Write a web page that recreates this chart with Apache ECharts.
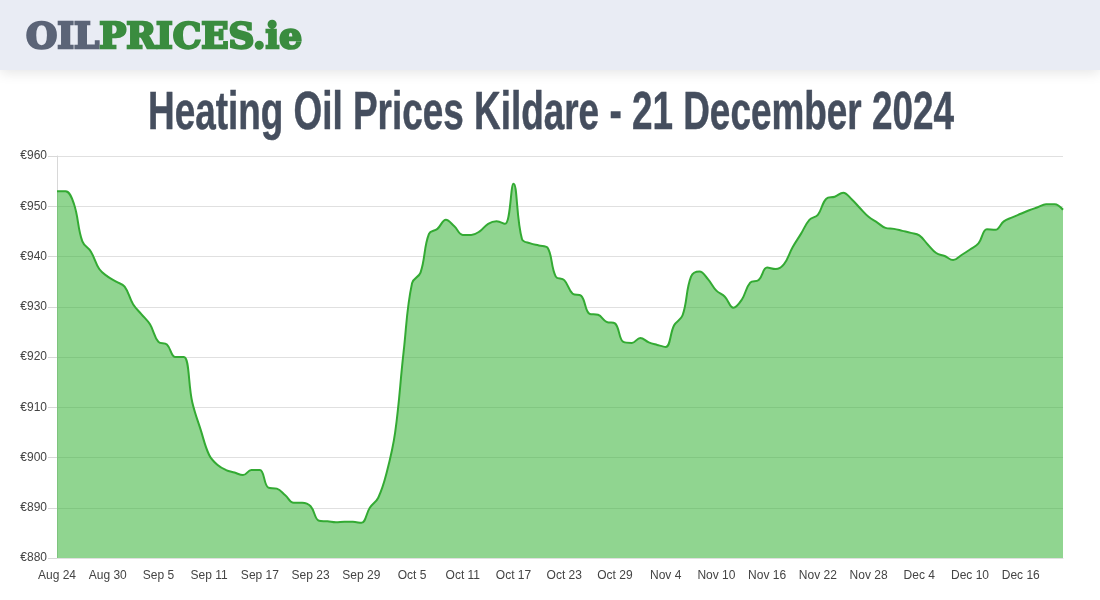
<!DOCTYPE html>
<html>
<head>
<meta charset="utf-8">
<script src="https://cdn.jsdelivr.net/npm/echarts@6/dist/echarts.min.js"></script>
<style>
html,body{margin:0;padding:0;background:#fff;}
#chart{width:1100px;height:600px;}
</style>
</head>
<body>
<div id="chart"></div>
<script>
const titleText = 'Heating Oil Prices Kildare - 21 December 2024';
const logoPart1 = 'OIL';
const logoPart2 = 'PRICES.ie';

const dates = [
 'Aug 24','Aug 25','Aug 26','Aug 27','Aug 28','Aug 29','Aug 30','Aug 31',
 'Sep 1','Sep 2','Sep 3','Sep 4','Sep 5','Sep 6','Sep 7','Sep 8','Sep 9','Sep 10','Sep 11','Sep 12','Sep 13','Sep 14','Sep 15','Sep 16','Sep 17','Sep 18','Sep 19','Sep 20','Sep 21','Sep 22','Sep 23','Sep 24','Sep 25','Sep 26','Sep 27','Sep 28','Sep 29','Sep 30',
 'Oct 1','Oct 2','Oct 3','Oct 4','Oct 5','Oct 6','Oct 7','Oct 8','Oct 9','Oct 10','Oct 11','Oct 12','Oct 13','Oct 14','Oct 15','Oct 16','Oct 17','Oct 18','Oct 19','Oct 20','Oct 21','Oct 22','Oct 23','Oct 24','Oct 25','Oct 26','Oct 27','Oct 28','Oct 29','Oct 30','Oct 31',
 'Nov 1','Nov 2','Nov 3','Nov 4','Nov 5','Nov 6','Nov 7','Nov 8','Nov 9','Nov 10','Nov 11','Nov 12','Nov 13','Nov 14','Nov 15','Nov 16','Nov 17','Nov 18','Nov 19','Nov 20','Nov 21','Nov 22','Nov 23','Nov 24','Nov 25','Nov 26','Nov 27','Nov 28','Nov 29','Nov 30',
 'Dec 1','Dec 2','Dec 3','Dec 4','Dec 5','Dec 6','Dec 7','Dec 8','Dec 9','Dec 10','Dec 11','Dec 12','Dec 13','Dec 14','Dec 15','Dec 16','Dec 17','Dec 18','Dec 19','Dec 20','Dec 21'
];

const prices = [
 953, 953, 950.5, 943, 941, 937.5, 936, 935, 934, 930.5,
 928.5, 926.5, 923, 922.5, 920, 920, 911, 905.5, 900.5, 898.5,
 897.5, 897, 896.5, 897.5, 897.5, 894, 893.8, 892.5, 891, 891,
 890.3, 887.4, 887.3, 887.1, 887.2, 887.2, 887, 890, 892, 897,
 905, 921, 934.7, 936.8, 944.5, 945.5, 947.3, 946, 944.3, 944.3,
 945, 946.5, 947, 946.5, 954.5, 943.5, 942.6, 942.2, 941.8, 936,
 935.3, 932.6, 932.2, 928.6, 928.4, 927, 926.7, 923, 922.8, 923.8,
 922.9, 922.4, 922, 926.3, 928.3, 936, 937, 935.5, 933.2, 932,
 929.8, 931.4, 934.8, 935.3, 937.8, 937.5, 938.5, 941.8, 944.5, 947.3,
 948.3, 951.5, 951.9, 952.7, 951.4, 949.6, 947.9, 946.8, 945.7, 945.5,
 945.1, 944.7, 944.2, 942.4, 940.7, 940.1, 939.3, 940.3, 941.4, 942.6,
 945.4, 945.3, 947, 947.8, 948.5, 949.2, 949.8, 950.4, 950.4, 949.3
];

const yMin = 880, yMax = 960, yStep = 10;

function measure(text, font) {
  const c = document.createElement('canvas').getContext('2d');
  c.font = font;
  return c.measureText(text).width;
}

const titleFont = 'bold 54px "Liberation Sans Narrow", "Liberation Sans", sans-serif';
const titleScale = 806 / measure(titleText, titleFont);
const logoFont = 'bold 36px "DejaVu Serif", serif';
const logoScale = 276 / measure(logoPart1 + logoPart2, logoFont);

const chart = echarts.init(document.getElementById('chart'), null, {renderer: 'canvas'});
chart.setOption({
  animation: false,
  backgroundColor: '#ffffff',
  grid: {left: 57, right: 37, top: 156, bottom: 42},
  graphic: [
    {
      type: 'rect', x: 0, y: 0, z: 0,
      shape: {x: 0, y: 0, width: 1100, height: 70},
      style: {fill: '#e9ecf4', shadowBlur: 12, shadowColor: 'rgba(0,0,0,0.10)', shadowOffsetY: 3}
    },
    {
      type: 'text', x: 26, y: 39, scaleX: logoScale, z: 2,
      style: {
        x: 0, y: 0,
        text: '{a|' + logoPart1 + '}{b|' + logoPart2 + '}',
        align: 'left', verticalAlign: 'middle',
        rich: {
          a: {fontFamily: 'DejaVu Serif', fontWeight: 'bold', fontSize: 36, fill: '#5b6477', stroke: '#5b6477', lineWidth: 2.5},
          b: {fontFamily: 'DejaVu Serif', fontWeight: 'bold', fontSize: 36, fill: '#3a8c3f', stroke: '#3a8c3f', lineWidth: 2.5}
        }
      }
    },
    {
      type: 'text', x: 551, y: 114, scaleX: titleScale, z: 2,
      style: {
        x: 0, y: 0, text: titleText, font: titleFont, fill: '#454e5e',
        stroke: '#454e5e', lineWidth: 0.5,
        align: 'center', verticalAlign: 'middle'
      }
    }
  ],
  xAxis: {
    type: 'category',
    data: dates,
    boundaryGap: false,
    axisLine: {show: true, lineStyle: {color: '#e0e0e0'}},
    axisTick: {show: false},
    axisLabel: {interval: 5, margin: 12, color: '#444', fontSize: 12, fontFamily: 'Liberation Sans, Arial, sans-serif'},
    splitLine: {show: false}
  },
  yAxis: {
    type: 'value',
    min: yMin, max: yMax, interval: yStep,
    axisLine: {show: true, lineStyle: {color: '#d8d8d8'}},
    axisTick: {show: true, length: 9, lineStyle: {color: '#d8d8d8'}},
    axisLabel: {formatter: '€{value}', margin: 10, color: '#444', fontSize: 12, fontFamily: 'Liberation Sans, Arial, sans-serif'},
    splitLine: {show: true, lineStyle: {color: '#e0e0e0', width: 1}}
  },
  series: [{
    type: 'line',
    data: prices,
    smooth: 0.4,
    showSymbol: false,
    lineStyle: {color: '#33aa33', width: 2},
    itemStyle: {color: '#33aa33'},
    areaStyle: {color: 'rgba(53,179,53,0.55)', opacity: 1}
  }]
});
</script>
</body>
</html>
